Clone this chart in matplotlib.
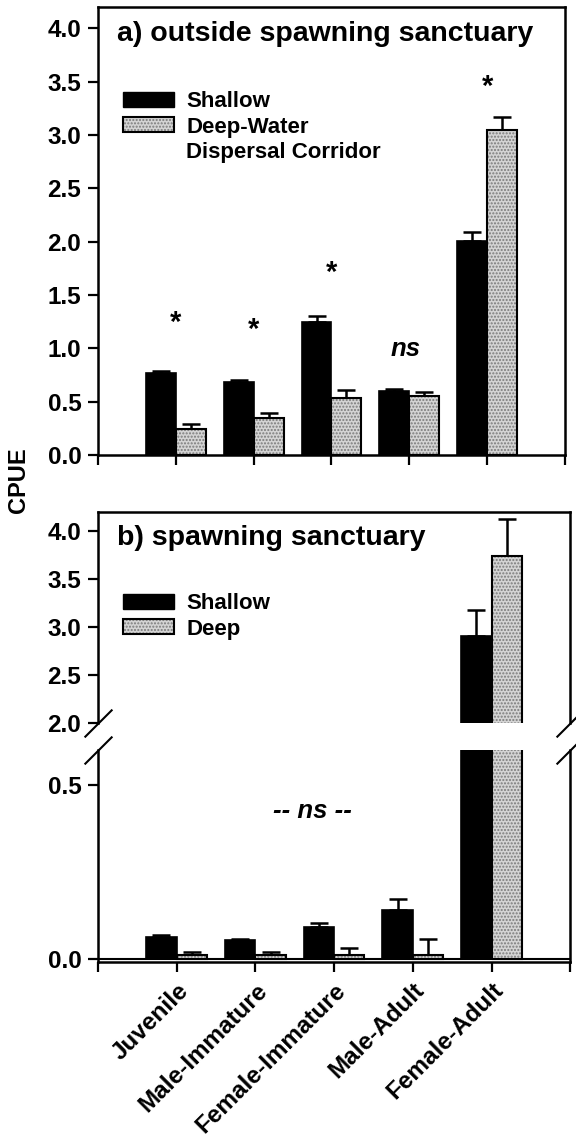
import matplotlib.pyplot as plt
import numpy as np
from matplotlib.patches import Rectangle
from matplotlib.legend_handler import HandlerTuple

plt.rcParams['font.family'] = ['Liberation Sans', 'DejaVu Sans']
plt.rcParams['font.weight'] = 'bold'
plt.rcParams['axes.linewidth'] = 1.8

categories = ['Juvenile', 'Male-Immature', 'Female-Immature', 'Male-Adult', 'Female-Adult']

# a) outside spawning sanctuary
a_shallow = [0.77, 0.68, 1.25, 0.60, 2.01]
a_shallow_se = [0.02, 0.02, 0.05, 0.02, 0.08]
a_deep = [0.24, 0.35, 0.53, 0.55, 3.05]
a_deep_se = [0.05, 0.04, 0.08, 0.04, 0.12]
a_marks = ['*', '*', '*', 'ns', '*']
a_mark_y = [1.24, 1.17, 1.71, 0.99, 3.45]

# b) spawning sanctuary
b_shallow = [0.062, 0.052, 0.090, 0.140, 2.91]
b_shallow_se = [0.007, 0.005, 0.012, 0.030, 0.27]
b_deep = [0.010, 0.010, 0.010, 0.010, 3.74]
b_deep_se = [0.010, 0.010, 0.021, 0.045, 0.39]

x = np.arange(1, len(categories) + 1)
w = 0.385
grey = '#d4d4d4'
stipple = '#7a7a7a'


def draw_bars(ax, sh, sh_se, dp, dp_se, baseline=True):
    ax.bar(x - w / 2, sh, w, color='black', edgecolor='black', linewidth=1.2, zorder=2)
    ax.bar(x + w / 2, dp, w, color=grey, edgecolor=stipple, hatch='.....', linewidth=0, zorder=2)
    ax.bar(x + w / 2, dp, w, fill=False, edgecolor='black', linewidth=1.5, zorder=3)
    ax.errorbar(x - w / 2, sh, yerr=[np.zeros(len(sh)), sh_se], fmt='none', ecolor='black',
                elinewidth=1.8, capsize=6.5, capthick=1.8, zorder=1)
    ax.errorbar(x + w / 2, dp, yerr=[np.zeros(len(dp)), dp_se], fmt='none', ecolor='black',
                elinewidth=1.8, capsize=6.5, capthick=1.8, zorder=1)
    if baseline:
        ax.axhline(0, color='black', linewidth=1.5, zorder=1)
    ax.set_xlim(0, 6)
    ax.tick_params(direction='out', length=7, width=1.6, labelsize=17.5, pad=5)


def legend_handles():
    h_sh = Rectangle((0, 0), 1, 1, facecolor='black', edgecolor='black')
    h_dp = (Rectangle((0, 0), 1, 1, facecolor=grey, edgecolor=stipple, hatch='.....', linewidth=0),
            Rectangle((0, 0), 1, 1, fill=False, edgecolor='black', linewidth=1.5))
    return h_sh, h_dp


fig = plt.figure(figsize=(5.76, 11.4), dpi=100)

# panel a
ax1 = fig.add_axes([0.170, 0.6009, 0.811, 0.3930])
draw_bars(ax1, a_shallow, a_shallow_se, a_deep, a_deep_se, baseline=False)
ax1.set_ylim(0, 4.2)
ax1.set_yticks(np.arange(0, 4.01, 0.5))
ax1.set_yticklabels([f'{v:.1f}' for v in np.arange(0, 4.01, 0.5)])
ax1.set_xticks(range(7))
ax1.set_xticklabels([])
for xi, m, yi in zip(x, a_marks, a_mark_y):
    if m == 'ns':
        ax1.text(xi - 0.05, yi, m, ha='center', va='center', fontsize=18.5, style='italic')
    else:
        ax1.text(xi, yi, m, ha='center', va='center', fontsize=21)
ax1.text(0.04, 0.94, 'a) outside spawning sanctuary', transform=ax1.transAxes,
         fontsize=20.5, va='center', ha='left')
h_sh, h_dp = legend_handles()
blank = Rectangle((0, 0), 1, 1, fill=False, edgecolor='none', linewidth=0)
ax1.legend([h_sh, h_dp, blank], ['Shallow', 'Deep-Water', 'Dispersal Corridor'],
           handler_map={tuple: HandlerTuple(ndivide=1)}, loc='upper left',
           bbox_to_anchor=(0.053, 0.812), frameon=False, fontsize=16,
           handlelength=2.3, handleheight=0.65, labelspacing=0.2, handletextpad=0.55,
           borderpad=0, borderaxespad=0)

# panel b, upper segment
ax2 = fig.add_axes([0.170, 0.3658, 0.820, 0.1851])
draw_bars(ax2, b_shallow, b_shallow_se, b_deep, b_deep_se)
ax2.set_ylim(2.0, 4.2)
ax2.set_yticks(np.arange(2.0, 4.01, 0.5))
ax2.set_yticklabels([f'{v:.1f}' for v in np.arange(2.0, 4.01, 0.5)])
ax2.set_xticks([])
ax2.spines['bottom'].set_visible(False)
ax2.text(0.04, 0.875, 'b) spawning sanctuary', transform=ax2.transAxes,
         fontsize=20.5, va='center', ha='left')
h_sh, h_dp = legend_handles()
ax2.legend([h_sh, h_dp], ['Shallow', 'Deep'],
           handler_map={tuple: HandlerTuple(ndivide=1)}, loc='upper left',
           bbox_to_anchor=(0.053, 0.615), frameon=False, fontsize=16,
           handlelength=2.3, handleheight=0.65, labelspacing=0.2, handletextpad=0.55,
           borderpad=0, borderaxespad=0)

# panel b, lower segment
ax3 = fig.add_axes([0.170, 0.1561, 0.820, 0.1860])
draw_bars(ax3, b_shallow, b_shallow_se, b_deep, b_deep_se)
ax3.set_ylim(-0.01, 0.6)
ax3.set_yticks([0.0, 0.5])
ax3.set_yticklabels(['0.0', '0.5'])
ax3.spines['top'].set_visible(False)
ax3.set_xticks(range(7))
ax3.set_xticklabels([''] + categories + [''], rotation=45, ha='right',
                    rotation_mode='anchor', fontsize=17.5)
ax3.text(2.73, 0.425, '-- ns --', ha='center', va='center', fontsize=18.5, style='italic')

# break marks
kw = dict(marker=[(-1, -1), (1, 1)], markersize=20, linestyle='none',
          color='black', mec='black', mew=1.5, clip_on=False)
ax2.plot([0, 1], [0, 0], transform=ax2.transAxes, **kw)
ax3.plot([0, 1], [1, 1], transform=ax3.transAxes, **kw)

fig.text(0.032, 0.579, 'CPUE', rotation=90, ha='center', va='center', fontsize=17)

plt.savefig('out.png', dpi=100)
